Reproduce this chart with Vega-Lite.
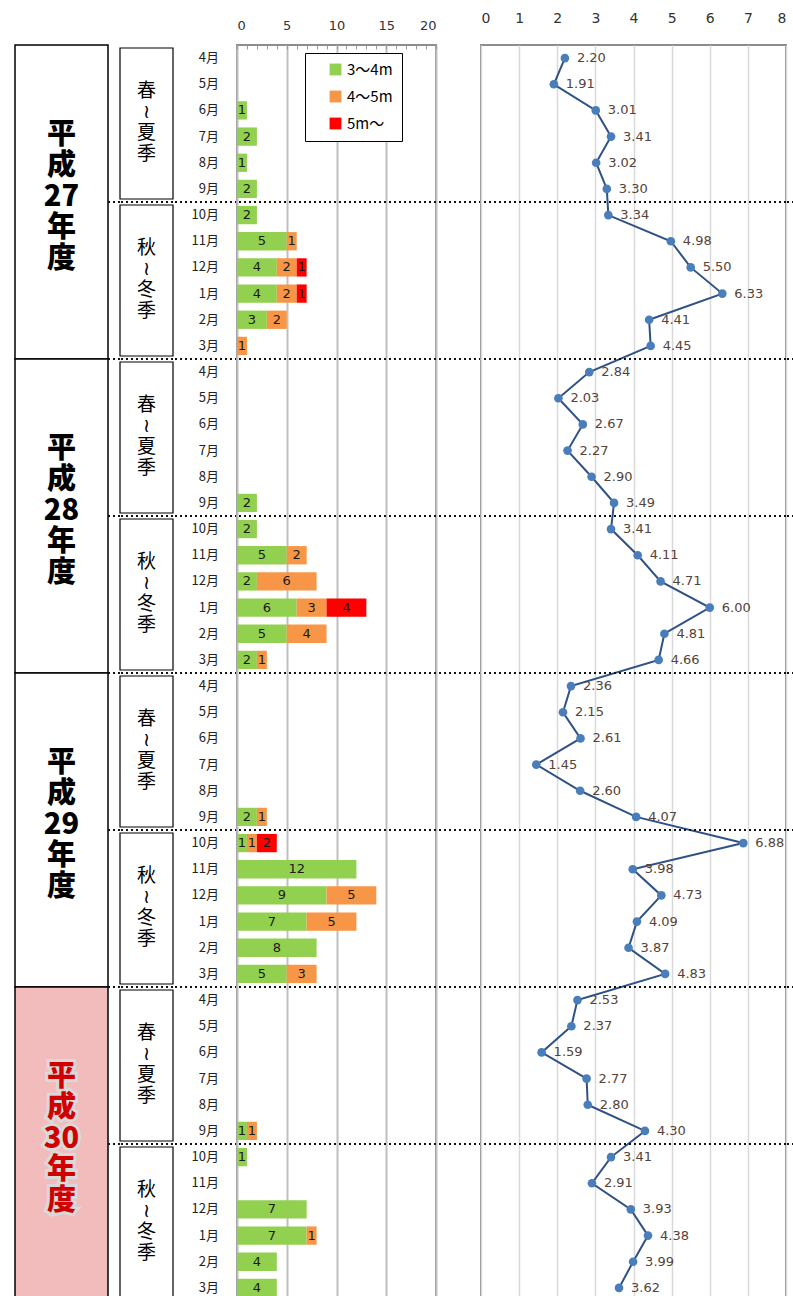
{
  "$schema": "https://vega.github.io/schema/vega-lite/v6.json",
  "padding": {"left": 14, "top": 10, "right": 0, "bottom": 0},
  "background": "white",
  "spacing": 0,
  "bounds": "flush",
  "resolve": {"scale": {"color": "independent", "fill": "independent"}, "legend": {"color": "independent", "fill": "independent"}},
  "config": {"font": "Noto Sans CJK JP", "view": {"stroke": null}, "axis": {"labelOverlap": false}},
  "datasets": {
    "rows": [
      {"r": 0, "m": "4月", "avg": 2.20}, {"r": 1, "m": "5月", "avg": 1.91}, {"r": 2, "m": "6月", "avg": 3.01},
      {"r": 3, "m": "7月", "avg": 3.41}, {"r": 4, "m": "8月", "avg": 3.02}, {"r": 5, "m": "9月", "avg": 3.30},
      {"r": 6, "m": "10月", "avg": 3.34}, {"r": 7, "m": "11月", "avg": 4.98}, {"r": 8, "m": "12月", "avg": 5.50},
      {"r": 9, "m": "1月", "avg": 6.33}, {"r": 10, "m": "2月", "avg": 4.41}, {"r": 11, "m": "3月", "avg": 4.45},
      {"r": 12, "m": "4月", "avg": 2.84}, {"r": 13, "m": "5月", "avg": 2.03}, {"r": 14, "m": "6月", "avg": 2.67},
      {"r": 15, "m": "7月", "avg": 2.27}, {"r": 16, "m": "8月", "avg": 2.90}, {"r": 17, "m": "9月", "avg": 3.49},
      {"r": 18, "m": "10月", "avg": 3.41}, {"r": 19, "m": "11月", "avg": 4.11}, {"r": 20, "m": "12月", "avg": 4.71},
      {"r": 21, "m": "1月", "avg": 6.00}, {"r": 22, "m": "2月", "avg": 4.81}, {"r": 23, "m": "3月", "avg": 4.66},
      {"r": 24, "m": "4月", "avg": 2.36}, {"r": 25, "m": "5月", "avg": 2.15}, {"r": 26, "m": "6月", "avg": 2.61},
      {"r": 27, "m": "7月", "avg": 1.45}, {"r": 28, "m": "8月", "avg": 2.60}, {"r": 29, "m": "9月", "avg": 4.07},
      {"r": 30, "m": "10月", "avg": 6.88}, {"r": 31, "m": "11月", "avg": 3.98}, {"r": 32, "m": "12月", "avg": 4.73},
      {"r": 33, "m": "1月", "avg": 4.09}, {"r": 34, "m": "2月", "avg": 3.87}, {"r": 35, "m": "3月", "avg": 4.83},
      {"r": 36, "m": "4月", "avg": 2.53}, {"r": 37, "m": "5月", "avg": 2.37}, {"r": 38, "m": "6月", "avg": 1.59},
      {"r": 39, "m": "7月", "avg": 2.77}, {"r": 40, "m": "8月", "avg": 2.80}, {"r": 41, "m": "9月", "avg": 4.30},
      {"r": 42, "m": "10月", "avg": 3.41}, {"r": 43, "m": "11月", "avg": 2.91}, {"r": 44, "m": "12月", "avg": 3.93},
      {"r": 45, "m": "1月", "avg": 4.38}, {"r": 46, "m": "2月", "avg": 3.99}, {"r": 47, "m": "3月", "avg": 3.62}
    ],
    "bars": [
      {"r": 2, "cat": "3～4m", "n": 1}, {"r": 3, "cat": "3～4m", "n": 2}, {"r": 4, "cat": "3～4m", "n": 1},
      {"r": 5, "cat": "3～4m", "n": 2}, {"r": 6, "cat": "3～4m", "n": 2},
      {"r": 7, "cat": "3～4m", "n": 5}, {"r": 7, "cat": "4～5m", "n": 1},
      {"r": 8, "cat": "3～4m", "n": 4}, {"r": 8, "cat": "4～5m", "n": 2}, {"r": 8, "cat": "5m～", "n": 1},
      {"r": 9, "cat": "3～4m", "n": 4}, {"r": 9, "cat": "4～5m", "n": 2}, {"r": 9, "cat": "5m～", "n": 1},
      {"r": 10, "cat": "3～4m", "n": 3}, {"r": 10, "cat": "4～5m", "n": 2},
      {"r": 11, "cat": "4～5m", "n": 1},
      {"r": 17, "cat": "3～4m", "n": 2}, {"r": 18, "cat": "3～4m", "n": 2},
      {"r": 19, "cat": "3～4m", "n": 5}, {"r": 19, "cat": "4～5m", "n": 2},
      {"r": 20, "cat": "3～4m", "n": 2}, {"r": 20, "cat": "4～5m", "n": 6},
      {"r": 21, "cat": "3～4m", "n": 6}, {"r": 21, "cat": "4～5m", "n": 3}, {"r": 21, "cat": "5m～", "n": 4},
      {"r": 22, "cat": "3～4m", "n": 5}, {"r": 22, "cat": "4～5m", "n": 4},
      {"r": 23, "cat": "3～4m", "n": 2}, {"r": 23, "cat": "4～5m", "n": 1},
      {"r": 29, "cat": "3～4m", "n": 2}, {"r": 29, "cat": "4～5m", "n": 1},
      {"r": 30, "cat": "3～4m", "n": 1}, {"r": 30, "cat": "4～5m", "n": 1}, {"r": 30, "cat": "5m～", "n": 2},
      {"r": 31, "cat": "3～4m", "n": 12},
      {"r": 32, "cat": "3～4m", "n": 9}, {"r": 32, "cat": "4～5m", "n": 5},
      {"r": 33, "cat": "3～4m", "n": 7}, {"r": 33, "cat": "4～5m", "n": 5},
      {"r": 34, "cat": "3～4m", "n": 8},
      {"r": 35, "cat": "3～4m", "n": 5}, {"r": 35, "cat": "4～5m", "n": 3},
      {"r": 41, "cat": "3～4m", "n": 1}, {"r": 41, "cat": "4～5m", "n": 1},
      {"r": 42, "cat": "3～4m", "n": 1},
      {"r": 44, "cat": "3～4m", "n": 7},
      {"r": 45, "cat": "3～4m", "n": 7}, {"r": 45, "cat": "4～5m", "n": 1},
      {"r": 46, "cat": "3～4m", "n": 4}, {"r": 47, "cat": "3～4m", "n": 4}
    ],
    "years": [
      {"fy": "H27", "s": 0, "e": 12, "mid": 6, "t": "平\n成\n27\n年\n度"},
      {"fy": "H28", "s": 12, "e": 24, "mid": 18, "t": "平\n成\n28\n年\n度"},
      {"fy": "H29", "s": 24, "e": 36, "mid": 30, "t": "平\n成\n29\n年\n度"},
      {"fy": "H30", "s": 36, "e": 48, "mid": 42, "t": "平\n成\n30\n年\n度"}
    ],
    "seasons": [
      {"s": 0, "e": 6, "mid": 3, "t": "春\n≀\n夏\n季"}, {"s": 6, "e": 12, "mid": 9, "t": "秋\n≀\n冬\n季"},
      {"s": 12, "e": 18, "mid": 15, "t": "春\n≀\n夏\n季"}, {"s": 18, "e": 24, "mid": 21, "t": "秋\n≀\n冬\n季"},
      {"s": 24, "e": 30, "mid": 27, "t": "春\n≀\n夏\n季"}, {"s": 30, "e": 36, "mid": 33, "t": "秋\n≀\n冬\n季"},
      {"s": 36, "e": 42, "mid": 39, "t": "春\n≀\n夏\n季"}, {"s": 42, "e": 48, "mid": 45, "t": "秋\n≀\n冬\n季"}
    ],
    "seps": [{"b": 6}, {"b": 12}, {"b": 18}, {"b": 24}, {"b": 30}, {"b": 36}, {"b": 42}]
  },
  "hconcat": [
    {
      "width": 93, "height": 1256,
      "data": {"name": "years"},
      "layer": [
        {
          "mark": {"type": "rect", "stroke": "#000", "strokeWidth": 1.5},
          "encoding": {
            "y": {"field": "s", "type": "quantitative", "scale": {"domain": [0, 48], "reverse": true, "nice": false, "zero": false}, "axis": null},
            "y2": {"field": "e"},
            "fill": {"field": "fy", "type": "nominal", "scale": {"domain": ["H27", "H28", "H29", "H30"], "range": ["#ffffff", "#ffffff", "#ffffff", "#f2bcbc"]}, "legend": null}
          }
        },
        {
          "transform": [{"filter": "datum.fy === 'H30'"}],
          "mark": {"type": "text", "lineBreak": "\n", "lineHeight": 31, "fontSize": 29, "fontWeight": 900, "dy": -67, "stroke": "#d9d9d9", "strokeWidth": 6, "fill": "#d9d9d9"},
          "encoding": {
            "y": {"field": "mid", "type": "quantitative"},
            "text": {"field": "t"}
          }
        },
        {
          "mark": {"type": "text", "lineBreak": "\n", "lineHeight": 31, "fontSize": 29, "fontWeight": 900, "dy": -67},
          "encoding": {
            "y": {"field": "mid", "type": "quantitative"},
            "text": {"field": "t"},
            "color": {"field": "fy", "type": "nominal", "scale": {"domain": ["H27", "H28", "H29", "H30"], "range": ["#000000", "#000000", "#000000", "#d10000"]}, "legend": null}
          }
        }
      ]
    },
    {
      "width": 12, "height": 1256,
      "data": {"name": "seps"},
      "mark": {"type": "rule", "strokeDash": [2, 3], "strokeWidth": 2, "color": "#111"},
      "encoding": {"y": {"field": "b", "type": "quantitative", "scale": {"domain": [0, 48], "reverse": true, "nice": false, "zero": false}, "axis": null}}
    },
    {
      "width": 53, "height": 1256,
      "layer": [
        {
          "data": {"name": "seps"},
          "mark": {"type": "rule", "strokeDash": [2, 3], "strokeWidth": 2, "color": "#111"},
          "encoding": {"y": {"field": "b", "type": "quantitative", "scale": {"domain": [0, 48], "reverse": true, "nice": false, "zero": false}, "axis": null}}
        },
        {
          "data": {"name": "seasons"},
          "mark": {"type": "rect", "stroke": "#000", "strokeWidth": 1.2, "fill": "#fff", "yOffset": 3, "y2Offset": -3},
          "encoding": {
            "y": {"field": "s", "type": "quantitative"},
            "y2": {"field": "e"}
          }
        },
        {
          "data": {"name": "seasons"},
          "mark": {"type": "text", "lineBreak": "\n", "lineHeight": 21, "fontSize": 19, "dy": -33, "color": "#000"},
          "encoding": {
            "y": {"field": "mid", "type": "quantitative"},
            "text": {"field": "t"}
          }
        }
      ]
    },
    {
      "width": 64, "height": 1256,
      "layer": [
        {
          "data": {"name": "seps"},
          "mark": {"type": "rule", "strokeDash": [2, 3], "strokeWidth": 2, "color": "#111"},
          "encoding": {"y": {"field": "b", "type": "quantitative", "scale": {"domain": [0, 48], "reverse": true, "nice": false, "zero": false}, "axis": null}}
        },
        {
          "data": {"name": "rows"},
          "mark": {"type": "text", "align": "right", "dx": 14, "fontSize": 13, "color": "#222"},
          "encoding": {
            "y": {"field": "r", "type": "ordinal", "axis": null},
            "text": {"field": "m"}
          }
        }
      ],
      "resolve": {"scale": {"y": "independent"}}
    },
    {
      "width": 199, "height": 1256,
      "view": {"stroke": "#8c8c8c", "strokeWidth": 2},
      "layer": [
        {
          "data": {"name": "bars"},
          "mark": {"type": "bar"},
          "encoding": {
            "y": {"field": "r", "type": "ordinal", "scale": {"domain": [0,1,2,3,4,5,6,7,8,9,10,11,12,13,14,15,16,17,18,19,20,21,22,23,24,25,26,27,28,29,30,31,32,33,34,35,36,37,38,39,40,41,42,43,44,45,46,47], "paddingInner": 0.3, "paddingOuter": 0.15}, "axis": null},
            "x": {"field": "n", "type": "quantitative", "stack": "zero", "scale": {"domain": [0, 20], "nice": false},
                  "axis": {"orient": "top", "values": [0,1,2,3,4,5,6,7,8,9,10,11,12,13,14,15,16,17,18,19,20], "labelExpr": "datum.value % 5 === 0 ? datum.label : ''", "grid": true, "gridColor": "#bfbfbf", "gridWidth": 2, "gridOpacity": {"condition": {"test": "datum.value % 5 === 0", "value": 1}, "value": 0}, "domain": false, "ticks": true, "tickSize": -4, "tickColor": "#999", "labelPadding": 17, "labelFontSize": 13, "labelFont": "DejaVu Sans", "labelColor": "#333", "title": null}},
            "color": {"field": "cat", "type": "nominal", "scale": {"domain": ["3～4m", "4～5m", "5m～"], "range": ["#92d050", "#f79646", "#ff0000"]},
                      "legend": {"title": null, "orient": "none", "legendX": 68, "legendY": 8, "direction": "vertical", "symbolType": "square", "symbolSize": 140, "symbolOffset": 14, "symbolStrokeWidth": 0, "labelFontSize": 15, "labelFont": "Noto Sans CJK JP", "labelColor": "#000", "rowPadding": 11, "padding": 9, "strokeColor": "#000", "fillColor": "#fff"}},
            "order": {"field": "cat", "type": "ordinal", "sort": "ascending"}
          }
        },
        {
          "data": {"name": "bars"},
          "mark": {"type": "text", "fontSize": 13, "font": "DejaVu Sans", "color": "#1a1a1a"},
          "encoding": {
            "y": {"field": "r", "type": "ordinal", "scale": {"domain": [0,1,2,3,4,5,6,7,8,9,10,11,12,13,14,15,16,17,18,19,20,21,22,23,24,25,26,27,28,29,30,31,32,33,34,35,36,37,38,39,40,41,42,43,44,45,46,47], "paddingInner": 0.3, "paddingOuter": 0.15}, "axis": null},
            "x": {"field": "n", "type": "quantitative", "stack": "zero", "bandPosition": 0.5,
                  "axis": {"orient": "top", "values": [0,1,2,3,4,5,6,7,8,9,10,11,12,13,14,15,16,17,18,19,20], "labelExpr": "datum.value % 5 === 0 ? datum.label : ''", "grid": true, "gridColor": "#bfbfbf", "gridWidth": 2, "gridOpacity": {"condition": {"test": "datum.value % 5 === 0", "value": 1}, "value": 0}, "domain": false, "ticks": true, "tickSize": -4, "tickColor": "#999", "labelPadding": 17, "labelFontSize": 13, "labelFont": "DejaVu Sans", "labelColor": "#333", "title": null}},
            "detail": {"field": "cat", "type": "nominal"},
            "order": {"field": "cat", "type": "ordinal", "sort": "ascending"},
            "text": {"field": "n", "type": "quantitative"}
          }
        },
        {
          "data": {"name": "seps"},
          "mark": {"type": "rule", "strokeDash": [2, 3], "strokeWidth": 2, "color": "#111"},
          "encoding": {"y": {"field": "b", "type": "quantitative", "scale": {"domain": [0, 48], "reverse": true, "nice": false, "zero": false}, "axis": null}}
        }
      ],
      "resolve": {"scale": {"y": "independent"}}
    },
    {
      "width": 45, "height": 1256,
      "data": {"name": "seps"},
      "mark": {"type": "rule", "strokeDash": [2, 3], "strokeWidth": 2, "color": "#111"},
      "encoding": {"y": {"field": "b", "type": "quantitative", "scale": {"domain": [0, 48], "reverse": true, "nice": false, "zero": false}, "axis": null}}
    },
    {
      "width": 305, "height": 1256,
      "view": {"stroke": "#8c8c8c", "strokeWidth": 2},
      "layer": [
        {
          "data": {"name": "rows"},
          "mark": {"type": "line", "color": "#2f5286", "strokeWidth": 2},
          "encoding": {
            "y": {"field": "r", "type": "ordinal", "axis": null},
            "x": {"field": "avg", "type": "quantitative", "scale": {"domain": [0, 8], "nice": false},
                  "axis": {"orient": "top", "values": [0, 1, 2, 3, 4, 5, 6, 7, 8], "grid": true, "gridColor": "#d9d9d9", "gridWidth": 1.5, "domain": false, "ticks": false, "labelPadding": 20, "labelFontSize": 14, "labelFont": "DejaVu Sans", "labelColor": "#333", "title": null}},
            "order": {"field": "r", "type": "quantitative"}
          }
        },
        {
          "data": {"name": "rows"},
          "mark": {"type": "point", "filled": true, "color": "#4a7ebb", "size": 75, "opacity": 1},
          "encoding": {
            "y": {"field": "r", "type": "ordinal", "axis": null},
            "x": {"field": "avg", "type": "quantitative",
                  "axis": {"orient": "top", "values": [0, 1, 2, 3, 4, 5, 6, 7, 8], "grid": true, "gridColor": "#d9d9d9", "gridWidth": 1.5, "domain": false, "ticks": false, "labelPadding": 20, "labelFontSize": 14, "labelFont": "DejaVu Sans", "labelColor": "#333", "title": null}}
          }
        },
        {
          "data": {"name": "rows"},
          "mark": {"type": "text", "align": "left", "dx": 12, "fontSize": 13, "font": "DejaVu Sans", "color": "#54433a"},
          "encoding": {
            "y": {"field": "r", "type": "ordinal", "axis": null},
            "x": {"field": "avg", "type": "quantitative",
                  "axis": {"orient": "top", "values": [0, 1, 2, 3, 4, 5, 6, 7, 8], "grid": true, "gridColor": "#d9d9d9", "gridWidth": 1.5, "domain": false, "ticks": false, "labelPadding": 20, "labelFontSize": 14, "labelFont": "DejaVu Sans", "labelColor": "#333", "title": null}},
            "text": {"field": "avg", "type": "quantitative", "format": ".2f"}
          }
        },
        {
          "data": {"name": "seps"},
          "mark": {"type": "rule", "strokeDash": [2, 3], "strokeWidth": 2, "color": "#111"},
          "encoding": {"y": {"field": "b", "type": "quantitative", "scale": {"domain": [0, 48], "reverse": true, "nice": false, "zero": false}, "axis": null}}
        }
      ],
      "resolve": {"scale": {"y": "independent"}}
    },
    {
      "width": 8, "height": 1256,
      "data": {"name": "seps"},
      "mark": {"type": "rule", "strokeDash": [2, 3], "strokeWidth": 2, "color": "#111"},
      "encoding": {"y": {"field": "b", "type": "quantitative", "scale": {"domain": [0, 48], "reverse": true, "nice": false, "zero": false}, "axis": null}}
    }
  ]
}
